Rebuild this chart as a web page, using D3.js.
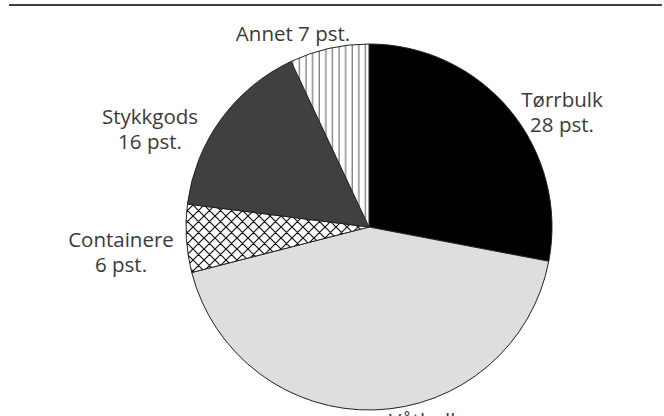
<!DOCTYPE html>
<html>
<head>
<meta charset="utf-8">
<script src="https://cdn.jsdelivr.net/npm/d3@7"></script>
<style>
html,body{margin:0;padding:0;background:#fff;}
svg{display:block;}
text{font-family:"Open Sans",sans-serif;font-size:20.5px;fill:#3a3a3a;}
</style>
</head>
<body>
<svg id="chart" width="664" height="416"></svg>
<script>
const categories = ["Tørrbulk", "Våtbulk", "Containere", "Stykkgods", "Annet"];
const values = [28, 43, 6, 16, 7];
const labelLines = [["Tørrbulk", "28 pst."], ["Våtbulk", "43 pst."], ["Containere", "6 pst."], ["Stykkgods", "16 pst."], ["Annet 7 pst."]];

// layout (not data)
const W = 664, H = 416;
const cx = 369, cy = 227, R = 183;
const labelPos = [[562, 107], [425, 428], [121, 247], [150, 124], [293, 41]];
const lineH = 25;

const svg = d3.select("#chart");
const defs = svg.append("defs");

const cross = defs.append("pattern").attr("id", "cross")
  .attr("patternUnits", "userSpaceOnUse").attr("width", 11).attr("height", 11);
cross.append("rect").attr("width", 11).attr("height", 11).attr("fill", "#fff");
cross.append("path").attr("d", "M0,0L11,11M11,0L0,11M-1,10L1,12M10,-1L12,1M-1,1L1,-1M10,12L12,10")
  .attr("stroke", "#111").attr("stroke-width", 1.2);

const vert = defs.append("pattern").attr("id", "vert")
  .attr("patternUnits", "userSpaceOnUse").attr("width", 6.6).attr("height", 10);
vert.append("rect").attr("width", 6.6).attr("height", 10).attr("fill", "#fff");
vert.append("line").attr("x1", 3).attr("x2", 3).attr("y1", 0).attr("y2", 10)
  .attr("stroke", "#555").attr("stroke-width", 1);

const fills = ["#000000", "#dedede", "url(#cross)", "#404040", "url(#vert)"];

// top rule
svg.append("line").attr("x1", 9).attr("x2", 662).attr("y1", 5).attr("y2", 5)
  .attr("stroke", "#000").attr("stroke-width", 1.5);

const pie = d3.pie().sort(null).value(d => d)(values);
const arc = d3.arc().innerRadius(0).outerRadius(R);

const g = svg.append("g").attr("transform", `translate(${cx},${cy})`);
g.selectAll("path").data(pie).join("path")
  .attr("d", arc)
  .attr("fill", (d, i) => fills[i])
  .attr("stroke", "#222")
  .attr("stroke-width", 1)
  .attr("stroke-linejoin", "round");

labelLines.forEach((lines, i) => {
  const t = svg.append("text").attr("text-anchor", "middle")
    .attr("x", labelPos[i][0]).attr("y", labelPos[i][1]);
  lines.forEach((ln, j) => {
    t.append("tspan").attr("x", labelPos[i][0]).attr("dy", j === 0 ? 0 : lineH).text(ln);
  });
});
</script>
</body>
</html>
